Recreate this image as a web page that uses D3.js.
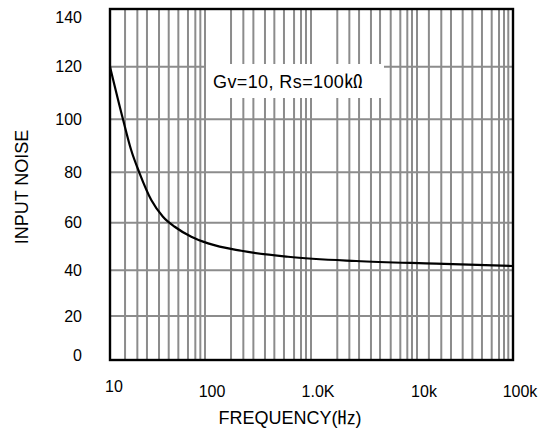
<!DOCTYPE html>
<html><head><meta charset="utf-8">
<script src="https://cdn.jsdelivr.net/npm/d3@7"></script>
<style>
html,body{margin:0;padding:0;background:#fff;}
svg text{font-family:"Liberation Sans","Noto Sans CJK SC",Arial,sans-serif;fill:#000;}
</style></head>
<body>
<svg id="c" width="552" height="432"></svg>
<script>
// Curve data (frequency in Hz, input noise)
const freqs = [10, 13.7, 16.7, 20.5, 27.2, 36.1, 48, 71.8, 107, 220, 607, 2660, 15800, 100000];
const noise = [120, 100, 88.4, 79.6, 69.0, 62.4, 58.3, 54.1, 51.3, 48.2, 45.7, 43.9, 42.8, 41.8];

// Axis ticks
const yTicks = [0, 20, 40, 60, 80, 100, 120, 140];
const xTickVals = [10, 100, 1000, 10000, 100000];
const xTickLabels = ["10", "100", "1.0K", "10k", "100k"];

// Vertical grid line frequencies (as drawn, irregular)
const gridFreqs = [
  14.4, 19.4, 24.5, 32.8, 41.5, 52.4, 66.2, 79.1, 89.3, 100,
  176, 230, 286, 368, 451, 556, 692, 805, 897, 1000,
  1770, 2300, 2840, 3680, 4480, 5650, 6960, 8100, 8970, 10000,
  13300, 17900, 22600, 29900, 37700, 47500, 60000, 71500, 80600, 89300
];
const hGrid = [20, 40, 60, 80, 100, 120];

const noteText = "Gv=10, Rs=100\u33C0";
const xTitle = "FREQUENCY(\u3390)";
const yTitle = "INPUT NOISE";

const svg = d3.select("#c");
const x = d3.scaleLog().domain(xTickVals).range([110, 205, 311, 417, 513]);
const y = d3.scaleLinear().domain(yTicks).range([360, 316, 270.3, 222.7, 172.3, 119.3, 66.7, 9]);

const gridColor = "#8c8c8c";
const g = svg.append("g");

g.selectAll("line.v").data(gridFreqs).join("line")
  .attr("x1", d => x(d)).attr("x2", d => x(d))
  .attr("y1", y(140)).attr("y2", y(0))
  .attr("stroke", gridColor).attr("stroke-width", 2);

g.selectAll("line.h").data(hGrid).join("line")
  .attr("x1", x(10)).attr("x2", x(100000))
  .attr("y1", d => y(d)).attr("y2", d => y(d))
  .attr("stroke", gridColor).attr("stroke-width", 2);

// annotation box (white, hides grid)
g.append("rect").attr("x", 206).attr("y", 64).attr("width", 178).attr("height", 34).attr("fill", "#fff");
g.append("text").attr("x", 213).attr("y", 88).attr("font-size", 18)
  .attr("letter-spacing", 0.4).text(noteText);

// curve
const pts = freqs.map((f, i) => [f, noise[i]]);
const line = d3.line().x(d => x(d[0])).y(d => y(d[1])).curve(d3.curveMonotoneX);
g.append("path").attr("d", line(pts)).attr("fill", "none").attr("stroke", "#000").attr("stroke-width", 2.2);

// frame
g.append("rect").attr("x", x(10)).attr("y", y(140))
  .attr("width", x(100000) - x(10)).attr("height", y(0) - y(140))
  .attr("fill", "none").attr("stroke", "#000").attr("stroke-width", 2.4);

// y tick labels
g.selectAll("text.yt").data(yTicks).join("text")
  .attr("x", 82)
  .attr("y", d => d === 140 ? y(d) + 8 : (d === 0 ? y(d) - 5 : y(d)))
  .attr("dy", "0.36em").attr("text-anchor", "end").attr("font-size", 16)
  .text(d => d);

// x tick labels
g.selectAll("text.xt").data(xTickVals).join("text")
  .attr("x", (d, i) => x(d) + (i === 0 ? 4 : 7))
  .attr("y", (d, i) => i === 0 ? 386 : 391)
  .attr("dy", "0.36em").attr("text-anchor", "middle").attr("font-size", 16)
  .text((d, i) => xTickLabels[i]);

// axis titles
g.append("text").attr("x", 290).attr("y", 418).attr("dy", "0.36em")
  .attr("text-anchor", "middle").attr("font-size", 18).text(xTitle);
g.append("text").attr("transform", "translate(22,187) rotate(-90)").attr("dy", "0.36em")
  .attr("text-anchor", "middle").attr("font-size", 18).text(yTitle);
</script>
</body></html>
